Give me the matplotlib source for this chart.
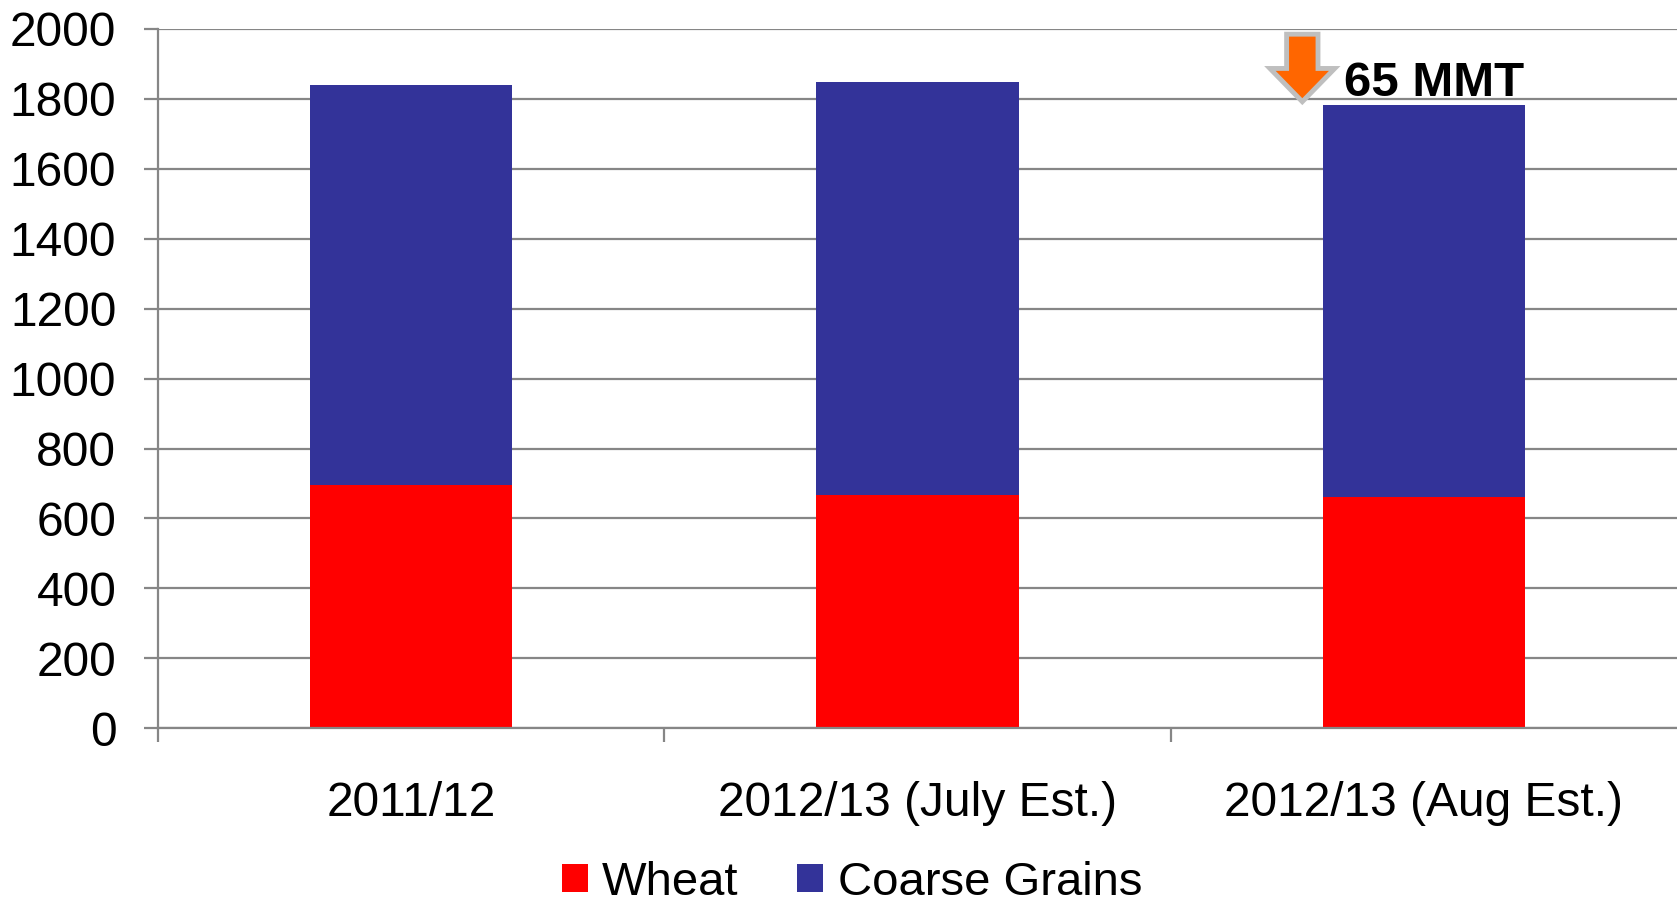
"""Stacked bar chart: world wheat and coarse grain production (MMT)."""

import matplotlib.pyplot as plt
from matplotlib.patches import FancyArrow
import numpy as np

categories = ["2011/12", "2012/13 (July Est.)", "2012/13 (Aug Est.)"]
wheat = [696, 667, 662]
coarse_grains = [1145, 1181, 1120]
y_ticks = [0, 200, 400, 600, 800, 1000, 1200, 1400, 1600, 1800, 2000]
drop_label = "65 MMT"

RED = "#FF0000"
BLUE = "#333399"
GRID = "#868686"


def main():
    plt.rcParams["font.family"] = ["Liberation Sans", "DejaVu Sans"]

    fig = plt.figure(figsize=(16.77, 9.10), dpi=100)
    ax = fig.add_axes([0.0942, 0.1997, 0.9058, 0.7685])

    x = np.arange(len(categories))
    ax.bar(x, wheat, width=0.4, color=RED, label="Wheat", zorder=2)
    ax.bar(x, coarse_grains, width=0.4, bottom=wheat, color=BLUE,
           label="Coarse Grains", zorder=2)

    ax.set_xlim(-0.5, len(categories) - 0.5)
    ax.set_ylim(0, 2000)
    ax.set_yticks(y_ticks)
    ax.set_yticklabels([str(v) for v in y_ticks], fontsize=34.5)
    ax.set_xticks(x)
    ax.set_xticklabels(categories, fontsize=34.5)
    ax.set_xticks(np.arange(len(categories)) - 0.5, minor=True)

    ax.grid(axis="y", color=GRID, linewidth=1.6, zorder=0)
    ax.tick_params(axis="y", length=10, width=1.6, color=GRID, pad=20)
    ax.tick_params(axis="x", which="major", length=0, pad=38)
    ax.tick_params(axis="x", which="minor", length=10, width=1.6, color=GRID)
    for side in ("top", "right"):
        ax.spines[side].set_visible(False)
    for side in ("left", "bottom"):
        ax.spines[side].set_color(GRID)
        ax.spines[side].set_linewidth(1.6)

    # down arrow marking the drop in the August estimate
    top3 = wheat[2] + coarse_grains[2]
    arrow = FancyArrow(x[2] - 0.24, 1985, 0, -(1985 - top3 - 10),
                       width=0.062, head_width=0.128, head_length=95,
                       length_includes_head=True, facecolor="#FF6600",
                       edgecolor="#BFBFBF", linewidth=3.5, zorder=4,
                       clip_on=False)
    arrow.set_joinstyle("miter")
    ax.add_patch(arrow)
    ax.text(x[2] - 0.158, 1845, drop_label, fontsize=35.5, fontweight="bold",
            ha="left", va="center", zorder=5)

    fig.legend(loc="center", bbox_to_anchor=(0.508, 0.03), ncol=2,
               frameon=False, fontsize=34, handlelength=0.55,
               handleheight=0.55, handletextpad=0.3, columnspacing=1.25)

    fig.savefig("out.png", dpi=100)


if __name__ == "__main__":
    main()
